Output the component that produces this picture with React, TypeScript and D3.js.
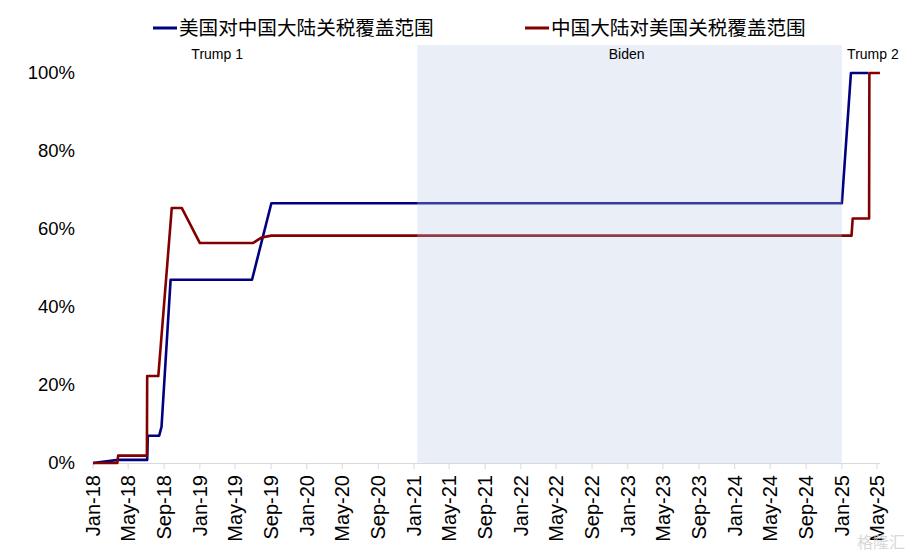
import React from 'react';
import * as d3 from 'd3';

// ---- data ----
const seriesNames = ['美国对中国大陆关税覆盖范围', '中国大陆对美国关税覆盖范围'];

const usDates = [
  '2018-01-01', '2018-03-28', '2018-07-05', '2018-07-07', '2018-08-15', '2018-08-23',
  '2018-09-23', '2019-06-28', '2019-09-02', '2025-01-01', '2025-02-01', '2025-04-01',
];
const usValues = [0, 0.8, 0.8, 7, 7, 9.3, 47, 47, 66.6, 66.6, 100, 100];

const cnDates = [
  '2018-01-01', '2018-03-25', '2018-03-28', '2018-07-04', '2018-07-05', '2018-08-12',
  '2018-09-27', '2018-10-31', '2019-01-01', '2019-07-01', '2019-07-30', '2019-09-02',
  '2025-02-03', '2025-02-07', '2025-04-04', '2025-04-05', '2025-05-11',
];
const cnValues = [0, 0, 1.9, 1.9, 22.3, 22.3, 65.4, 65.4, 56.4, 56.4, 57.8, 58.3, 58.3, 62.7, 62.7, 100, 100];

const yTicks = [0, 20, 40, 60, 80, 100];
const domainStart = '2018-01-01';
const domainEnd = '2025-05-01';
const bidenStart = '2021-01-12';
const bidenEnd = '2025-01-01';
const eraNames = ['Trump 1', 'Biden', 'Trump 2'];
const eraLabelDates = ['2019-03-01', '2022-12-28', '2025-04-17'];
const colors = ['#000080', '#820000'];

const parse = d3.timeParse('%Y-%m-%d');
const fmt = d3.timeFormat('%b-%y');

export default function App() {
  const W = 922, H = 555;
  const x = d3.scaleTime()
    .domain([parse(domainStart)!, parse(domainEnd)!])
    .range([93, 877]);
  const y = d3.scaleLinear().domain([0, 100]).range([463, 73]);

  const mk = (dates: string[], vals: number[]) => dates.map((d, i) => ({ d: parse(d)!, v: vals[i] }));
  const us = mk(usDates, usValues);
  const cn = mk(cnDates, cnValues);
  const line = d3.line<{ d: Date; v: number }>().x(p => x(p.d)).y(p => y(p.v));

  const ticks = x.ticks(d3.timeMonth.every(4)!);
  const font = '"Liberation Sans", Arial, "Noto Sans CJK SC", sans-serif';
  const cjk = '"Noto Sans CJK SC", "Liberation Sans", sans-serif';

  const bx0 = x(parse(bidenStart)!);
  const bx1 = x(parse(bidenEnd)!);

  return (
    <div style={{ position: 'fixed', left: 0, top: 0, width: W, height: H, background: '#fff' }}>
      <svg width={W} height={H} style={{ display: 'block', fontFamily: font }}>
        <rect x={0} y={0} width={W} height={H} fill="#fff" />
        {/* x axis */}
        <line x1={93} x2={880} y1={y(0) + 0.5} y2={y(0) + 0.5} stroke="#d9d9d9" strokeWidth={1} />
        {ticks.map((t, i) => (
          <g key={i}>
            <line x1={x(t)} x2={x(t)} y1={y(0)} y2={y(0) + 6} stroke="#d9d9d9" strokeWidth={1} />
            <text
              transform={`translate(${x(t)},${y(0) + 12}) rotate(-90)`}
              textAnchor="end"
              dy="0.35em"
              fontSize={20}
              fill="#000"
            >
              {fmt(t)}
            </text>
          </g>
        ))}
        {/* y labels */}
        {yTicks.map(v => (
          <text key={v} x={75} y={y(v)} dy="0.35em" textAnchor="end" fontSize={18.5} fill="#000">
            {v}%
          </text>
        ))}
        {/* lines */}
        <path d={line(us) || ''} fill="none" stroke={colors[0]} strokeWidth={2.6} strokeLinejoin="round" />
        <path d={line(cn) || ''} fill="none" stroke={colors[1]} strokeWidth={2.6} strokeLinejoin="round" />
        {/* Biden shading overlay */}
        <rect x={bx0} y={45} width={bx1 - bx0} height={y(0) - 45} fill="rgb(182,198,228)" fillOpacity={0.3} />
        {/* era labels */}
        {eraNames.map((n, i) => (
          <text key={n} x={x(parse(eraLabelDates[i])!)} y={59} textAnchor="middle" fontSize={14} fill="#000">
            {n}
          </text>
        ))}
        {/* legend */}
        {seriesNames.map((n, i) => {
          const lx = i === 0 ? 153 : 525;
          return (
            <g key={n}>
              <line x1={lx} x2={lx + 24} y1={28} y2={28} stroke={colors[i]} strokeWidth={3} />
              <text x={lx + 26} y={34.5} fontSize={19.6} fontFamily={cjk} fill="#000">
                {n}
              </text>
            </g>
          );
        })}
        {/* watermark */}
        <text x={905} y={548} textAnchor="end" fontSize={16} fontFamily={cjk} fill="#cfcfcf" opacity={0.8}>
          格隆汇
        </text>
      </svg>
    </div>
  );
}
